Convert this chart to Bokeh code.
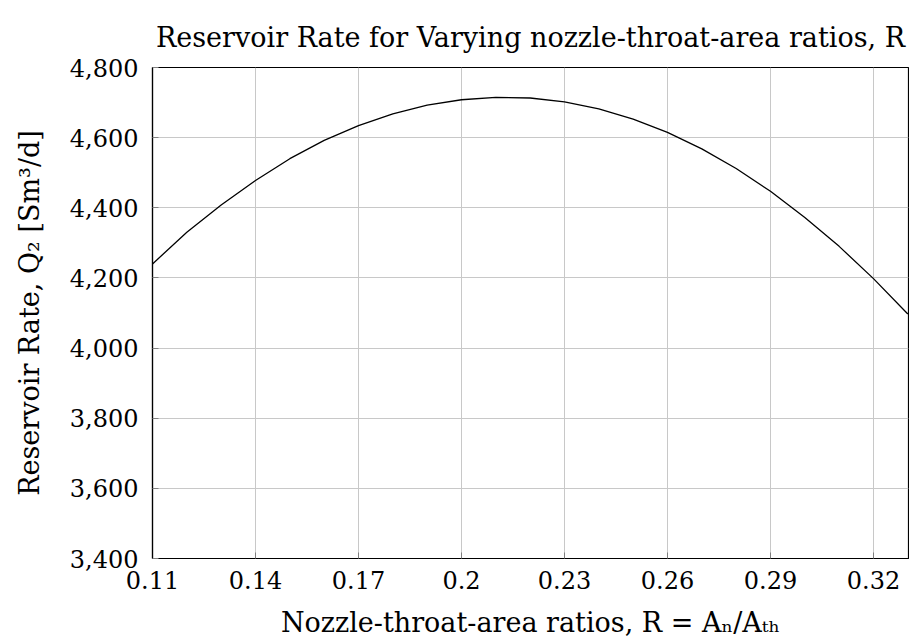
from bokeh.plotting import figure
from bokeh.models import FixedTicker, NumeralTickFormatter, Range1d
from bokeh.embed import file_html
from bokeh.resources import INLINE

# Data
ratio = [0.11, 0.12, 0.13, 0.14, 0.15, 0.16, 0.17, 0.18, 0.19, 0.20, 0.21, 0.22,
         0.23, 0.24, 0.25, 0.26, 0.27, 0.28, 0.29, 0.30, 0.31, 0.32, 0.33]
rate = [4240, 4330, 4408, 4478, 4540, 4592, 4634, 4668, 4693, 4708, 4715, 4713,
        4702, 4682, 4653, 4615, 4568, 4512, 4447, 4372, 4290, 4198, 4097]

x_ticks = [0.11, 0.14, 0.17, 0.20, 0.23, 0.26, 0.29, 0.32]
x_tick_labels = ["0.11", "0.14", "0.17", "0.2", "0.23", "0.26", "0.29", "0.32"]
y_ticks = [3400, 3600, 3800, 4000, 4200, 4400, 4600, 4800]

FONT = "DejaVu Serif"
TICK_SIZE = "24px"
LABEL_SIZE = "27px"

p = figure(width=909, height=644, output_backend="svg", toolbar_location=None,
           x_range=Range1d(0.11, 0.3302), y_range=Range1d(3400, 4800),
           min_border_left=152, min_border_right=1, min_border_top=67,
           min_border_bottom=86)

p.title.text = "Reservoir Rate for Varying nozzle-throat-area ratios, R"
p.title.align = "center"
p.title.text_font = FONT
p.title.text_font_size = LABEL_SIZE
p.title.text_font_style = "normal"
p.title.text_color = "black"
p.title.standoff = 30

p.line(ratio, rate, line_color="black", line_width=1.3)

p.outline_line_color = "black"
p.outline_line_width = 1.2
p.outline_line_alpha = 1

for g in (p.xgrid[0], p.ygrid[0]):
    g.grid_line_color = "#c8c8c8"
    g.grid_line_width = 1

p.xaxis.ticker = FixedTicker(ticks=x_ticks)
p.xaxis.major_label_overrides = {t: l for t, l in zip(x_ticks, x_tick_labels)}
p.yaxis.ticker = FixedTicker(ticks=y_ticks)
p.yaxis.formatter = NumeralTickFormatter(format="0,0")
p.xaxis.minor_tick_line_color = None
p.yaxis.minor_tick_line_color = None

for ax in (p.xaxis[0], p.yaxis[0]):
    ax.axis_line_color = "black"
    ax.axis_line_width = 1.2
    ax.major_tick_in = 6
    ax.major_tick_out = 0
    ax.major_tick_line_color = "#808080"
    ax.major_label_text_font = FONT
    ax.major_label_text_font_size = TICK_SIZE
    ax.major_label_text_color = "black"
    ax.axis_label_text_font = FONT
    ax.axis_label_text_font_size = LABEL_SIZE
    ax.axis_label_text_font_style = "normal"
    ax.axis_label_text_color = "black"

p.xaxis.axis_label = "Nozzle-throat-area ratios, R = Aₙ/Aₜₕ"
p.yaxis.axis_label = "Reservoir Rate, Q₂ [Sm³/d]"
p.xaxis.major_label_standoff = 12
p.yaxis.major_label_standoff = 14
p.xaxis.axis_label_standoff = 15
p.yaxis.axis_label_standoff = 22

open("out.html", "w").write(file_html(p, INLINE))
